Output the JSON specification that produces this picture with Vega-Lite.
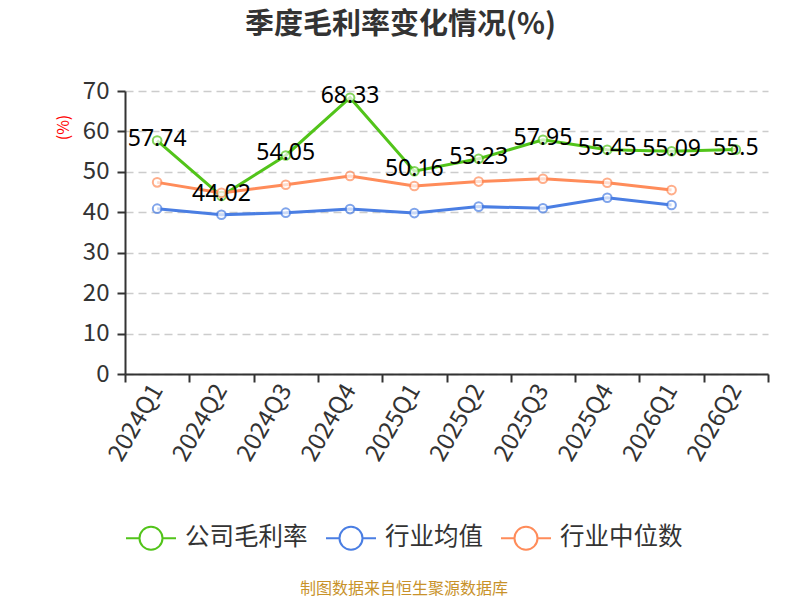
{
  "$schema": "https://vega.github.io/schema/vega-lite/v6.json",
  "width": 800,
  "height": 600,
  "autosize": {"type": "fit", "contains": "padding"},
  "padding": {"top": 11, "left": 55, "right": 31, "bottom": 3},
  "background": "white",
  "title": {
    "text": "季度毛利率变化情况(%)",
    "fontSize": 29,
    "fontWeight": "bold",
    "color": "#333333",
    "font": "Noto Sans CJK SC",
    "anchor": "middle",
    "dx": -46,
    "offset": 39
  },
  "data": {
    "values": [
      {"quarter": "2024Q1", "series": "公司毛利率", "value": 57.74},
      {"quarter": "2024Q2", "series": "公司毛利率", "value": 44.02},
      {"quarter": "2024Q3", "series": "公司毛利率", "value": 54.05},
      {"quarter": "2024Q4", "series": "公司毛利率", "value": 68.33},
      {"quarter": "2025Q1", "series": "公司毛利率", "value": 50.16},
      {"quarter": "2025Q2", "series": "公司毛利率", "value": 53.23},
      {"quarter": "2025Q3", "series": "公司毛利率", "value": 57.95},
      {"quarter": "2025Q4", "series": "公司毛利率", "value": 55.45},
      {"quarter": "2026Q1", "series": "公司毛利率", "value": 55.09},
      {"quarter": "2026Q2", "series": "公司毛利率", "value": 55.5},
      {"quarter": "2024Q1", "series": "行业均值", "value": 40.9},
      {"quarter": "2024Q2", "series": "行业均值", "value": 39.4},
      {"quarter": "2024Q3", "series": "行业均值", "value": 39.9},
      {"quarter": "2024Q4", "series": "行业均值", "value": 40.8},
      {"quarter": "2025Q1", "series": "行业均值", "value": 39.8},
      {"quarter": "2025Q2", "series": "行业均值", "value": 41.4},
      {"quarter": "2025Q3", "series": "行业均值", "value": 41.0},
      {"quarter": "2025Q4", "series": "行业均值", "value": 43.6},
      {"quarter": "2026Q1", "series": "行业均值", "value": 41.8},
      {"quarter": "2024Q1", "series": "行业中位数", "value": 47.4},
      {"quarter": "2024Q2", "series": "行业中位数", "value": 44.8},
      {"quarter": "2024Q3", "series": "行业中位数", "value": 46.8},
      {"quarter": "2024Q4", "series": "行业中位数", "value": 49.0},
      {"quarter": "2025Q1", "series": "行业中位数", "value": 46.5},
      {"quarter": "2025Q2", "series": "行业中位数", "value": 47.6},
      {"quarter": "2025Q3", "series": "行业中位数", "value": 48.3},
      {"quarter": "2025Q4", "series": "行业中位数", "value": 47.3},
      {"quarter": "2026Q1", "series": "行业中位数", "value": 45.5}
    ]
  },
  "encoding": {
    "x": {
      "field": "quarter",
      "type": "ordinal",
      "scale": {"type": "band", "paddingInner": 0, "paddingOuter": 0},
      "axis": {
        "title": null,
        "labelAngle": -60,
        "labelAlign": "right",
        "labelBaseline": "middle",
        "labelFontSize": 24,
        "labelColor": "#333333",
        "labelPadding": 4,
        "tickBand": "extent",
        "tickSize": 8,
        "tickColor": "#333333",
        "tickWidth": 2,
        "domainColor": "#333333",
        "domainWidth": 2
      }
    },
    "y": {
      "field": "value",
      "type": "quantitative",
      "scale": {"domain": [0, 70], "nice": false},
      "axis": {
        "title": "(%)",
        "titleColor": "#ff0000",
        "titleFontSize": 16,
        "titleFontWeight": "normal",
        "titleAngle": -90,
        "titleAlign": "center",
        "titleBaseline": "middle",
        "titleX": -62,
        "titleY": 36,
        "values": [0, 10, 20, 30, 40, 50, 60, 70],
        "labelFontSize": 24,
        "labelColor": "#333333",
        "labelPadding": 8,
        "tickSize": 8,
        "tickColor": "#333333",
        "tickWidth": 2,
        "domainColor": "#333333",
        "domainWidth": 2,
        "grid": true,
        "gridColor": "#cccccc",
        "gridDash": [8, 5],
        "gridWidth": 1.5
      }
    },
    "color": {
      "field": "series",
      "type": "nominal",
      "scale": {
        "domain": ["公司毛利率", "行业均值", "行业中位数"],
        "range": ["#52c41a", "#4a7ee3", "#ff8c5a"]
      },
      "legend": {
        "title": "制图数据来自恒生聚源数据库",
        "titleOrient": "bottom",
        "titleAnchor": "middle",
        "titleColor": "#c8922a",
        "titleFontSize": 16,
        "titleFontWeight": "normal",
        "titleLimit": 1000,
        "titlePadding": 27,
        "orient": "bottom",
        "direction": "horizontal",
        "offset": 46,
        "symbolType": "M-1,0L-0.46,0M0.46,0L1,0M-0.46,0A0.46,0.46 0 1,1 0.46,0A0.46,0.46 0 1,1 -0.46,0",
        "symbolSize": 2500,
        "symbolStrokeWidth": 2,
        "symbolFillColor": "white",
        "labelFontSize": 24.5,
        "labelColor": "#333333",
        "labelOffset": 8,
        "labelLimit": 1000,
        "columnPadding": 14,
        "encode": {
          "symbols": {
            "update": {
              "fill": {"value": "white"},
              "stroke": {"scale": "color", "field": "value"}
            }
          }
        }
      }
    }
  },
  "layer": [
    {
      "mark": {"type": "line", "strokeWidth": 3}
    },
    {
      "mark": {"type": "point", "shape": "circle", "filled": true, "fill": "white", "size": 75, "strokeWidth": 2},
      "encoding": {
        "stroke": {"field": "series", "type": "nominal", "scale": {"domain": ["公司毛利率", "行业均值", "行业中位数"], "range": ["#52c41a", "#4a7ee3", "#ff8c5a"]}, "legend": null},
        "color": {"value": "white"}
      }
    },
    {
      "transform": [{"filter": "datum.series === '公司毛利率'"}],
      "mark": {"type": "text", "fontSize": 23, "color": "black", "baseline": "middle", "dy": -2, "font": "Noto Sans"},
      "encoding": {
        "text": {"field": "value", "type": "nominal"},
        "color": {"value": "black"}
      }
    }
  ],
  "config": {
    "font": "Noto Sans CJK SC",
    "view": {"stroke": null}
  }
}
